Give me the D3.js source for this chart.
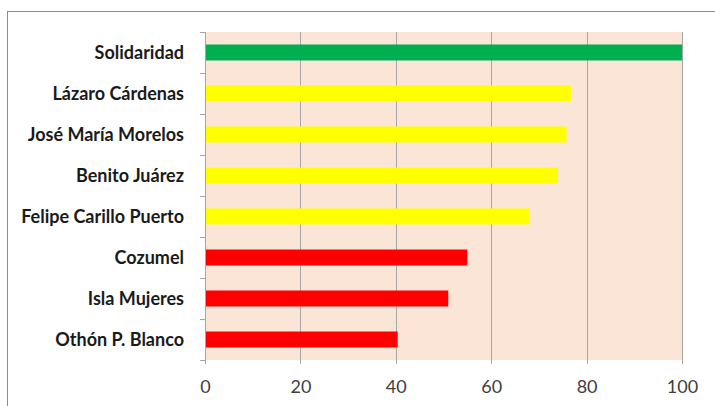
<!DOCTYPE html>
<html><head><meta charset="utf-8">
<script src="https://cdn.jsdelivr.net/npm/d3@7"></script>
<style>body{margin:0;background:#fff;}svg{display:block;}</style>
</head><body>
<svg id="c" width="715" height="406"></svg>
<script>
const categories = ["Solidaridad","Lázaro Cárdenas","José María Morelos","Benito Juárez","Felipe Carillo Puerto","Cozumel","Isla Mujeres","Othón P. Blanco"];
const values = [100, 76.7, 75.8, 74, 68, 55, 51, 40.4];
const barColors = ["#00B050","#FFFF00","#FFFF00","#FFFF00","#FFFF00","#FF0000","#FF0000","#FF0000"];
const xTicks = [0,20,40,60,80,100];

const svg = d3.select("#c");
const L=205, R=682, T=32, B=360;
const x = d3.scaleLinear().domain([0,100]).range([L,R]);
const yb = d3.scaleBand().domain(categories).range([T,B]);

// outer border
svg.append("rect").attr("x",7.5).attr("y",11.5).attr("width",720).attr("height",420)
  .attr("fill","none").attr("stroke","#8c8c8c").attr("stroke-width",1);

// plot background
svg.append("rect").attr("x",L).attr("y",T).attr("width",R-L).attr("height",B-T).attr("fill","#FBE5D6");

// grid
svg.append("g").selectAll("line").data(xTicks.slice(1)).join("line")
  .attr("x1",d=>Math.round(x(d))+0.5).attr("x2",d=>Math.round(x(d))+0.5)
  .attr("y1",T).attr("y2",B+4).attr("stroke","#a6a6a6").attr("stroke-width",1);

// bars
svg.append("g").selectAll("rect").data(categories).join("rect")
  .attr("x",x(0)).attr("y",d=>yb(d)+yb.bandwidth()/2-8)
  .attr("width",(d,i)=>x(values[i])-x(0)).attr("height",16)
  .attr("fill",(d,i)=>barColors[i]);

// y axis line & ticks
const ya = svg.append("g");
ya.append("line").attr("x1",L+0.5).attr("x2",L+0.5).attr("y1",T).attr("y2",B+4).attr("stroke","#a6a6a6");
const bounds = categories.map(c=>yb(c)).concat([B]);
ya.selectAll("line.t").data(bounds).join("line").attr("class","t")
  .attr("x1",L-5).attr("x2",L).attr("y1",d=>Math.round(d)+0.5).attr("y2",d=>Math.round(d)+0.5).attr("stroke","#a6a6a6");
ya.selectAll("text").data(categories).join("text")
  .attr("x",184).attr("y",d=>yb(d)+yb.bandwidth()/2+6.5)
  .attr("text-anchor","end").attr("font-family","Lato, 'Open Sans', sans-serif").attr("font-weight","bold")
  .attr("font-size",18).attr("fill","#1a1a1a").text(d=>d);

// x labels
const xAxis = d3.axisBottom(x).tickValues(xTicks).tickSize(0).tickPadding(0);
const xa = svg.append("g").attr("transform",`translate(0,${B})`).call(xAxis);
xa.select(".domain").remove();
xa.selectAll("text").attr("dy",null).attr("y",33).attr("font-family","Lato, 'Open Sans', sans-serif").attr("font-size",18).attr("fill","#404040");
</script>
</body></html>
